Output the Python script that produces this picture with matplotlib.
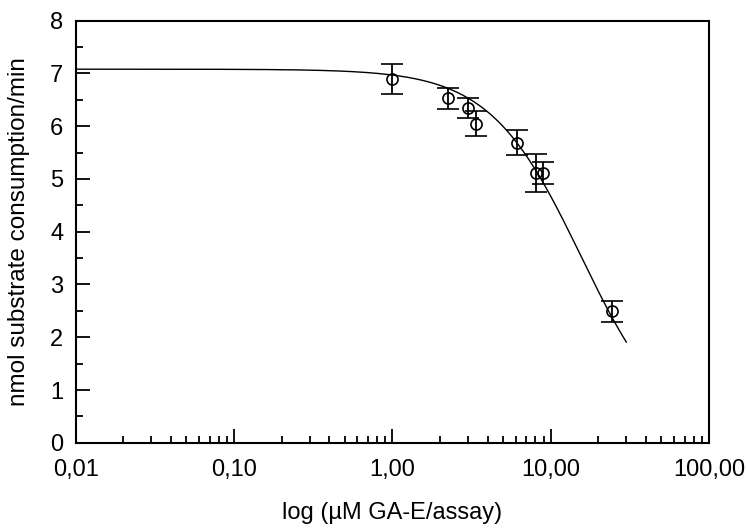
import matplotlib
matplotlib.use('Agg')
import matplotlib.pyplot as plt
import numpy as np
from matplotlib.ticker import FixedLocator, MultipleLocator, NullFormatter

plt.rcParams['font.family'] = ['Liberation Sans', 'DejaVu Sans']

# measured points
conc = [1.0, 2.24, 3.0, 3.35, 6.1, 8.05, 8.95, 24.5]
activity = [6.89, 6.53, 6.35, 6.05, 5.69, 5.12, 5.12, 2.49]
errors = [0.28, 0.20, 0.19, 0.24, 0.23, 0.36, 0.21, 0.20]

# fitted dose-response curve
top = 7.08
ic50 = 15.5
hill = 1.51
curve_x = np.logspace(-2, np.log10(30), 300)
curve_y = top / (1 + (curve_x / ic50) ** hill)

x_ticks = [0.01, 0.1, 1, 10, 100]
x_labels = ['0,01', '0,10', '1,00', '10,00', '100,00']

fig = plt.figure(figsize=(7.47, 5.29), dpi=100)
ax = fig.add_axes([0.1013, 0.163, 0.848, 0.798])

ax.plot(curve_x, curve_y, color='black', lw=1.0)
ax.errorbar(conc, activity, yerr=errors, fmt='o', mfc='none', mec='black',
            ms=8, mew=1.2, ecolor='black', elinewidth=1.3, capsize=8, capthick=1.3)

ax.set_xscale('log')
ax.set_xlim(0.01, 100)
ax.set_ylim(0, 8)
ax.xaxis.set_major_locator(FixedLocator(x_ticks))
ax.set_xticklabels(x_labels)
ax.xaxis.set_minor_locator(FixedLocator([m * d for d in [0.01, 0.1, 1, 10] for m in range(2, 10)]))
ax.xaxis.set_minor_formatter(NullFormatter())
ax.yaxis.set_major_locator(MultipleLocator(1))
ax.yaxis.set_minor_locator(MultipleLocator(0.5))

ax.tick_params(which='both', direction='in', top=False, right=False, labelsize=17, width=1.3)
ax.tick_params(axis='x', which='major', pad=12)
ax.tick_params(axis='y', which='major', pad=9)
ax.tick_params(which='major', length=10)
ax.tick_params(which='minor', length=5)
for s in ax.spines.values():
    s.set_linewidth(1.5)

ax.set_xlabel('log (µM GA-E/assay)', fontsize=17)
ax.set_ylabel('nmol substrate consumption/min', fontsize=17.5)
ax.xaxis.set_label_coords(0.5, -0.14)
ax.yaxis.set_label_coords(-0.072, 0.5)

fig.savefig('out.png', dpi=100)
